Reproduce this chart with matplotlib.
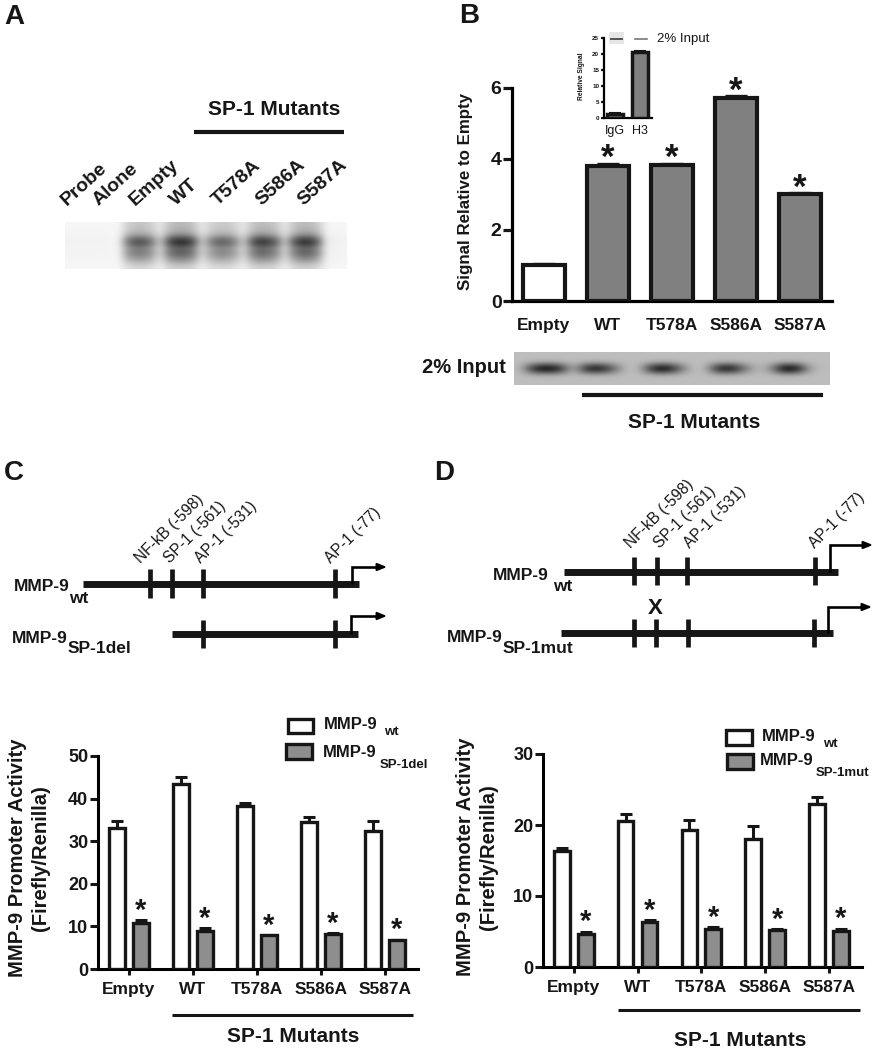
import numpy as np
import matplotlib
matplotlib.use('Agg')
import matplotlib.pyplot as plt
from matplotlib.patches import Rectangle

plt.rcParams['font.family'] = ['Liberation Sans', 'DejaVu Sans']

# panel B
b_labels = ['Empty', 'WT', 'T578A', 'S586A', 'S587A']
b_values = [1.0, 3.8, 3.83, 5.7, 3.0]
b_errors = [0.03, 0.05, 0.03, 0.06, 0.03]
b_stars = [False, True, True, True, True]

inset_labels = ['IgG', 'H3']
inset_values = [1.2, 20.5]
inset_errors = [0.3, 0.2]

# panel C
c_wt = [33.0, 43.5, 38.3, 34.5, 32.5]
c_wt_err = [1.8, 1.5, 0.7, 1.2, 2.3]
c_del = [10.8, 8.9, 7.9, 8.2, 6.7]
c_del_err = [0.6, 0.7, 0.1, 0.2, 0.2]

# panel D
d_wt = [16.4, 20.5, 19.3, 18.0, 23.0]
d_wt_err = [0.3, 1.1, 1.4, 1.9, 1.0]
d_mut = [4.7, 6.4, 5.3, 5.2, 5.1]
d_mut_err = [0.3, 0.15, 0.3, 0.1, 0.3]

# gel darkness read across the lanes and down the bands
gel_a_lanes = [.03, .03, .03, .03, .03, .02, .02, .6, .8, .8, .6, .2, .8, .98, .98, .8, .2,
               .55, .72, .72, .55, .2, .72, .95, .88, .72, .2, .72, .95, .95, .72, .06, .04, .03]
gel_a_rows = [.3, .35, .45, .85, 1.0, .7, .75, .6, .4, .2]
gel_b_lanes = [0, .8, 1, .8, 0, .8, .9, .5, 0, 0, .8, 1, .5, 0, 0, .8, .9, .4, 0, .2, 1, .9, .1, 0]
gel_b_rows = [0, 0, .08, .6, 1, .6, .08, 0, 0]

DARK = '#161616'
W, H = 874, 1050

fig = plt.figure(figsize=(W / 100, H / 100), dpi=100)
bg = fig.add_axes([0, 0, 1, 1], zorder=5)
bg.set_xlim(0, W)
bg.set_ylim(H, 0)
bg.axis('off')
bg.patch.set_alpha(0)


def px_axes(left, right, top, bottom):
    return fig.add_axes([left / W, 1 - bottom / H, (right - left) / W, (bottom - top) / H])


def label(x, y, s, size=12.5, weight='bold', **kw):
    bg.text(x, y, s, fontsize=size, fontweight=weight, color=DARK, va='baseline', **kw)


def hline(x0, x1, y, lw):
    bg.plot([x0, x1], [y, y], color=DARK, lw=lw, solid_capstyle='butt')


def style_axes(ax, lw, tick_len, size):
    ax.spines['top'].set_visible(False)
    ax.spines['right'].set_visible(False)
    ax.spines['left'].set_linewidth(lw)
    ax.spines['bottom'].set_linewidth(lw)
    ax.patch.set_alpha(0)
    ax.tick_params(axis='y', width=lw, length=tick_len, labelsize=size, pad=1, colors=DARK)
    for t in ax.get_yticklabels():
        t.set_fontweight('bold')


def show_gel(ax, lanes, rows, base, vmax):
    img = base + np.outer(rows, lanes) * (vmax - base)
    ax.imshow(img, cmap='gray_r', vmin=0, vmax=1, aspect='auto', interpolation='bicubic')
    ax.axis('off')


def stars(ax, xs, tops, size, offset):
    for x, top in zip(xs, tops):
        ax.annotate('*', (x, top), xytext=(0, offset), textcoords='offset points', ha='center',
                    va='baseline', fontsize=size, fontweight='bold', color=DARK, annotation_clip=False)


def grouped(ax, wt, wt_err, other, other_err, ymax, step):
    x = np.arange(5)
    ax.bar(x - 0.1875, wt, 0.245, color='white', edgecolor=DARK, linewidth=2.4, zorder=3)
    ax.bar(x + 0.1875, other, 0.245, color='#8e8e8e', edgecolor=DARK, linewidth=2.4, zorder=3)
    zeros = np.zeros(5)
    ax.errorbar(x - 0.1875, wt, yerr=[zeros, wt_err], fmt='none', ecolor=DARK, elinewidth=2.2,
                capsize=4.5, capthick=2.2, zorder=2)
    ax.errorbar(x + 0.1875, other, yerr=[zeros, other_err], fmt='none', ecolor=DARK, elinewidth=2.2,
                capsize=4.5, capthick=2.2, zorder=2)
    stars(ax, x + 0.1875, np.array(other) + np.array(other_err), 21, 1)
    ax.set_xlim(-0.484, 4.52)
    ax.set_ylim(0, ymax)
    ax.set_yticks(np.arange(0, ymax + 1, step))
    ax.set_xticks(x)
    ax.set_xticklabels(b_labels, fontsize=12.5, fontweight='bold', color=DARK)
    style_axes(ax, 2.2, 6, 13)
    ax.tick_params(axis='x', width=2.2, length=4.5, pad=5, colors=DARK)
    ax.set_ylabel('MMP-9 Promoter Activity\n(Firefly/Renilla)', fontsize=14.6, fontweight='bold',
                  color=DARK, linespacing=1.25)


# panel letters
label(4, 24, 'A', size=20)
label(459, 23, 'B', size=20)
label(4, 480, 'C', size=20)
label(434, 480, 'D', size=20)

# A: gel and lane labels
label(208, 115, 'SP-1 Mutants', size=15)
hline(194, 344, 131.5, 3)
lane_names = ['Probe', 'Alone', 'Empty', 'WT', 'T578A', 'S586A', 'S587A']
lane_x = [67, 99, 135, 176, 218, 261, 303]
for name, lx in zip(lane_names, lane_x):
    label(lx, 206, name, size=14, rotation=42, rotation_mode='anchor', ha='left')
show_gel(px_axes(65, 347, 222, 269), gel_a_lanes, gel_a_rows, 0.03, 0.86)

# B: main bars
ax_b = px_axes(512, 832, 87.7, 301)
xb = np.arange(5)
ax_b.errorbar(xb, b_values, yerr=[np.zeros(5), b_errors], fmt='none', ecolor=DARK, elinewidth=2.4,
              capsize=8, capthick=2.4, zorder=2)
ax_b.bar(xb, b_values, 0.65, color=['white', '#808080', '#808080', '#808080', '#808080'],
         edgecolor=DARK, linewidth=3, zorder=3)
stars(ax_b, xb[b_stars], (np.array(b_values) + np.array(b_errors))[b_stars], 25, -3)
ax_b.set_xlim(-0.5, 4.5)
ax_b.set_ylim(0, 6)
ax_b.set_yticks([0, 2, 4, 6])
ax_b.set_xticks(xb)
ax_b.set_xticklabels(b_labels, fontsize=12.5, fontweight='bold', color=DARK)
style_axes(ax_b, 2.3, 6.5, 14)
ax_b.tick_params(axis='x', length=0, pad=12, colors=DARK)
ax_b.set_ylabel('Signal Relative to Empty', fontsize=12.2, fontweight='bold', color=DARK)
ax_b.yaxis.set_label_coords(473, 191, transform=bg.transData)

# B: inset
ax_in = px_axes(604, 652, 37.7, 117.7)
xi = np.arange(2)
ax_in.errorbar(xi, inset_values, yerr=[np.zeros(2), inset_errors], fmt='none', ecolor=DARK,
               elinewidth=1.5, capsize=4, capthick=1.5, zorder=2)
ax_in.bar(xi, inset_values, 0.66, color='#808080', edgecolor=DARK, linewidth=2.5, zorder=3)
ax_in.set_xlim(-0.44, 1.48)
ax_in.set_ylim(0, 25)
ax_in.set_yticks(np.arange(0, 26, 5))
ax_in.set_xticks(xi)
ax_in.set_xticklabels(inset_labels, fontsize=9, color=DARK)
style_axes(ax_in, 1.6, 2.5, 4.5)
ax_in.tick_params(axis='x', length=0, pad=5, colors=DARK)
ax_in.set_ylabel('Relative Signal', fontsize=4.8, fontweight='bold', color=DARK)
ax_in.yaxis.set_label_coords(585, 76, transform=bg.transData)
label(657, 42, '2% Input', size=9.5, weight='normal')
bg.add_patch(Rectangle((609, 32), 15, 12, color='#e6e6e6', lw=0, zorder=1))
bg.plot([611, 622], [39, 39], color='#555555', lw=1.4, zorder=2)
bg.plot([635, 647], [39, 39], color='#777777', lw=1.2, zorder=2)

# B: input blot
show_gel(px_axes(514, 830, 352, 385), gel_b_lanes, gel_b_rows, 0.26, 0.98)
label(506, 373, '2% Input', size=14.5, ha='right')
hline(582, 823, 395, 3)
label(628, 428, 'SP-1 Mutants', size=15)


def promoter(x0, x1, y, sites, top, bottom, arrow_x, arrow_y, arrow_end):
    hline(x0, x1, y, 5)
    for sx in sites:
        bg.plot([sx, sx], [top, bottom], color=DARK, lw=3.4, solid_capstyle='butt')
    bg.plot([arrow_x, arrow_x, arrow_end - 8], [y, arrow_y, arrow_y], color='black', lw=1.9,
            solid_joinstyle='miter', solid_capstyle='butt')
    bg.annotate('', (arrow_end, arrow_y), xytext=(arrow_end - 10, arrow_y),
                arrowprops=dict(arrowstyle='-|>,head_width=0.22,head_length=0.55', color='black',
                                lw=1.5, shrinkA=0, shrinkB=0))


site_names = ['NF-kB (-598)', 'SP-1 (-561)', 'AP-1 (-531)', 'AP-1 (-77)']

# C: schematic
for name, lx in zip(site_names, [141, 170, 201, 331]):
    label(lx, 564, name, size=11.2, weight='normal', rotation=45, rotation_mode='anchor', ha='left')
promoter(83, 359, 584, [150, 172, 203, 335], 569, 598, 352, 567, 387)
promoter(172, 358, 634, [203, 335], 620, 648, 351, 616, 387)
label(14, 591, 'MMP-9')
label(69, 603, 'wt')
label(12, 643, 'MMP-9')
label(68, 653, 'SP-1del')

# D: schematic
for name, lx in zip(site_names, [631, 660, 690, 815]):
    label(lx, 549, name, size=11.2, weight='normal', rotation=45, rotation_mode='anchor', ha='left')
promoter(564, 838, 572, [634, 657, 687, 815], 557, 585, 830, 545, 873)
promoter(561, 833, 633, [634, 656, 688, 814], 619, 647, 828, 607, 872)
label(655, 614, 'X', size=16, ha='center')
label(493, 580, 'MMP-9')
label(553, 591, 'wt')
label(447, 642, 'MMP-9')
label(503, 653, 'SP-1mut')

# C: bars
ax_c = px_axes(98, 418, 756, 969)
grouped(ax_c, c_wt, c_wt_err, c_del, c_del_err, 50, 10)
ax_c.yaxis.set_label_coords(50, 858, transform=bg.transData)
hline(172, 413, 1015, 2.2)
label(227, 1042, 'SP-1 Mutants', size=15)

# D: bars
ax_d = px_axes(543, 862, 754, 967)
grouped(ax_d, d_wt, d_wt_err, d_mut, d_mut_err, 30, 10)
ax_d.yaxis.set_label_coords(498, 857, transform=bg.transData)
hline(618, 860, 1010, 2.2)
label(674, 1046, 'SP-1 Mutants', size=15)


def legend_box(x0, x1, y0, y1, color):
    bg.add_patch(Rectangle((x0 + 1.5, y0 + 1.5), x1 - x0 - 3, y1 - y0 - 3, facecolor=color,
                           edgecolor=DARK, linewidth=2.4))


# legends
legend_box(286, 314, 717, 734, 'white')
legend_box(284, 313, 742, 760, '#8e8e8e')
label(324, 729, 'MMP-9', size=12)
label(384, 735, 'wt', size=9.5)
label(323, 757, 'MMP-9', size=12)
label(380, 768, 'SP-1del', size=9.5)

legend_box(724, 753, 728, 746, 'white')
legend_box(725, 754, 752, 770, '#8e8e8e')
label(762, 741, 'MMP-9', size=12)
label(823, 747, 'wt', size=9.5)
label(760, 765, 'MMP-9', size=12)
label(816, 776, 'SP-1mut', size=9.5)

fig.savefig('out.png', dpi=100)
